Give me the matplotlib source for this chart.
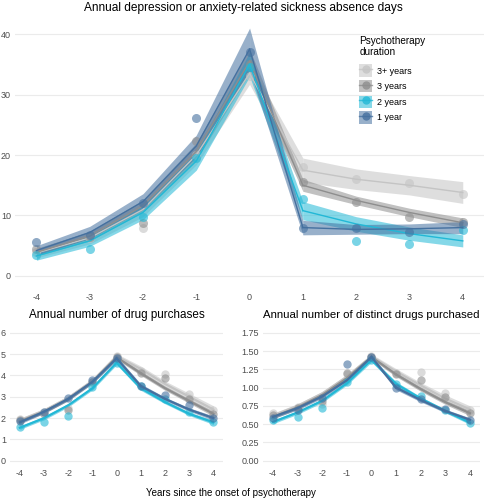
import numpy as np
import matplotlib.pyplot as plt
from matplotlib.patches import Patch
from matplotlib.lines import Line2D

plt.rcParams['font.family'] = ['Liberation Sans', 'DejaVu Sans']
plt.rcParams['axes.unicode_minus'] = False

years = [-4, -3, -2, -1, 0, 1, 2, 3, 4]
groups = ["3+ years", "3 years", "2 years", "1 year"]
colors = {"3+ years": "#c4c4c4", "3 years": "#8e8e8e",
          "2 years": "#22b8d6", "1 year": "#44709f"}

# ---- sickness absence days: fitted, half width of band, observed
sick_fit = {
    "3+ years": [3.8, 6.3, 11.0, 20.0, 33.5, 17.5, 16.0, 15.0, 13.8],
    "3 years":  [3.9, 6.6, 11.6, 20.6, 35.5, 15.0, 12.5, 10.5, 8.8],
    "2 years":  [3.3, 5.8, 10.5, 19.0, 35.0, 10.8, 8.6, 7.0, 5.8],
    "1 year":   [4.2, 7.2, 12.3, 21.5, 37.5, 8.0, 7.7, 7.8, 8.0],
}
sick_err = {
    "3+ years": [0.8, 1.0, 1.2, 1.6, 1.8, 2.0, 1.7, 1.6, 1.8],
    "3 years":  [0.6, 0.8, 1.0, 1.4, 2.0, 1.0, 0.7, 0.7, 0.8],
    "2 years":  [0.7, 0.9, 1.2, 1.5, 2.0, 1.5, 1.2, 1.1, 1.0],
    "1 year":   [0.8, 1.0, 1.3, 1.8, 3.5, 1.2, 0.8, 0.8, 1.0],
}
sick_obs = {
    "3+ years": [4.0, 6.2, 7.9, 20.0, 33.0, 18.0, 16.0, 15.3, 13.5],
    "3 years":  [4.4, 6.5, 8.8, 22.4, 35.0, 15.6, 12.3, 9.7, 8.9],
    "2 years":  [3.5, 4.5, 9.8, 19.5, 34.5, 12.7, 5.8, 5.3, 7.6],
    "1 year":   [5.6, 6.8, 12.0, 26.2, 37.0, 8.0, 7.9, 7.2, 8.6],
}

# ---- annual number of drug purchases
drug_fit = {
    "3+ years": [1.90, 2.35, 2.95, 3.75, 4.90, 4.30, 3.60, 3.00, 2.40],
    "3 years":  [1.85, 2.30, 2.90, 3.70, 4.85, 4.10, 3.40, 2.80, 2.20],
    "2 years":  [1.55, 2.00, 2.60, 3.40, 4.60, 3.40, 2.75, 2.20, 1.80],
    "1 year":   [1.80, 2.30, 2.90, 3.70, 4.80, 3.50, 2.90, 2.40, 2.00],
}
drug_err = {
    "3+ years": [0.10, 0.10, 0.10, 0.10, 0.12, 0.14, 0.14, 0.16, 0.18],
    "3 years":  [0.08, 0.08, 0.08, 0.08, 0.10, 0.10, 0.10, 0.10, 0.12],
    "2 years":  [0.08, 0.08, 0.08, 0.08, 0.10, 0.10, 0.08, 0.08, 0.10],
    "1 year":   [0.08, 0.08, 0.08, 0.08, 0.10, 0.10, 0.08, 0.08, 0.10],
}
drug_obs = {
    "3+ years": [1.95, 2.30, 2.45, 3.70, 4.90, 4.20, 4.05, 3.15, 2.40],
    "3 years":  [1.90, 2.20, 2.40, 3.70, 4.85, 4.10, 3.90, 2.90, 2.20],
    "2 years":  [1.60, 1.80, 2.10, 3.45, 4.60, 3.50, 2.90, 2.30, 1.80],
    "1 year":   [1.85, 2.30, 2.95, 3.80, 4.80, 3.50, 3.10, 2.60, 2.00],
}

# ---- annual number of distinct drugs purchased
dist_fit = {
    "3+ years": [0.62, 0.75, 0.92, 1.15, 1.43, 1.22, 1.03, 0.85, 0.70],
    "3 years":  [0.60, 0.73, 0.90, 1.13, 1.42, 1.18, 0.98, 0.80, 0.65],
    "2 years":  [0.53, 0.66, 0.82, 1.06, 1.38, 1.05, 0.85, 0.68, 0.52],
    "1 year":   [0.60, 0.72, 0.88, 1.10, 1.42, 1.00, 0.83, 0.68, 0.56],
}
dist_err = {
    "3+ years": [0.03, 0.03, 0.03, 0.03, 0.03, 0.04, 0.04, 0.05, 0.05],
    "3 years":  [0.025, 0.025, 0.025, 0.025, 0.03, 0.03, 0.03, 0.03, 0.035],
    "2 years":  [0.025, 0.025, 0.025, 0.025, 0.03, 0.03, 0.025, 0.025, 0.025],
    "1 year":   [0.025, 0.025, 0.025, 0.025, 0.03, 0.03, 0.025, 0.025, 0.025],
}
dist_obs = {
    "3+ years": [0.65, 0.74, 0.78, 1.18, 1.43, 1.20, 1.21, 0.93, 0.70],
    "3 years":  [0.62, 0.72, 0.81, 1.20, 1.42, 1.18, 1.10, 0.87, 0.65],
    "2 years":  [0.55, 0.60, 0.72, 1.08, 1.38, 1.05, 0.88, 0.70, 0.52],
    "1 year":   [0.58, 0.70, 0.86, 1.32, 1.42, 1.00, 0.85, 0.71, 0.56],
}


def draw_panel(ax, fit, err, obs, lw, ms, xpad):
    x = np.array(years)
    for g in groups:
        c = colors[g]
        f = np.array(fit[g])
        e = np.array(err[g])
        # before onset, drop from peak to year 1, after onset
        for sl in (slice(0, 5), slice(4, 6), slice(5, 9)):
            ax.fill_between(x[sl], (f - e)[sl], (f + e)[sl], color=c, alpha=0.55, lw=0)
            ax.plot(x[sl], f[sl], color=c, lw=lw)
        ax.plot(x, obs[g], 'o', color=c, alpha=0.6, ms=ms, mew=0)
    ax.set_xlim(-4.4, 4.4)
    ax.set_xticks(years)
    ax.grid(axis='y', color='#ebebeb', lw=0.8)
    ax.set_axisbelow(True)
    for s in ax.spines.values():
        s.set_visible(False)
    ax.tick_params(length=0, labelsize=6.5, labelcolor='#4d4d4d', pad=3)
    ax.tick_params(axis='x', pad=xpad)


fig = plt.figure(figsize=(4.87, 5.0), dpi=100)

ax1 = fig.add_axes([0.031, 0.436, 0.963, 0.526])
draw_panel(ax1, sick_fit, sick_err, sick_obs, 1.0, 6.5, 8)
ax1.set_ylim(-1, 42.5)
ax1.set_yticks([0, 10, 20, 30, 40])
fig.text(0.5, 0.984, "Annual depression or anxiety-related sickness absence days",
         ha='center', va='center', fontsize=8.6)

ax2 = fig.add_axes([0.021, 0.07, 0.437, 0.273])
draw_panel(ax2, drug_fit, drug_err, drug_obs, 1.6, 6, 3)
ax2.set_ylim(-0.2, 6.2)
ax2.set_yticks([0, 1, 2, 3, 4, 5, 6])
fig.text(0.24, 0.37, "Annual number of drug purchases", ha='center', va='center', fontsize=8.4)

ax3 = fig.add_axes([0.5404, 0.07, 0.4448, 0.273])
draw_panel(ax3, dist_fit, dist_err, dist_obs, 1.6, 6, 3)
ax3.set_ylim(-0.06, 1.81)
ax3.set_yticks([0, 0.25, 0.5, 0.75, 1.0, 1.25, 1.5, 1.75])
ax3.set_yticklabels(["0.00", "0.25", "0.50", "0.75", "1.00", "1.25", "1.50", "1.75"])
fig.text(0.762, 0.37, "Annual number of distinct drugs purchased", ha='center', va='center',
         fontsize=8.2)

fig.text(0.475, 0.014, "Years since the onset of psychotherapy", ha='center', va='center',
         fontsize=7)

handles = []
for g in groups:
    c = colors[g]
    handles.append((Patch(facecolor=c, alpha=0.55, lw=0),
                    Line2D([], [], color=c, lw=1.0, marker='o', ms=6, alpha=0.8, mew=0)))
leg = fig.legend(handles, groups, loc='upper left', bbox_to_anchor=(0.725, 0.941),
                 frameon=False, fontsize=6.5, title="Psychotherapy\nduration",
                 title_fontsize=7.2, handlelength=1.4, handleheight=1.75,
                 labelspacing=0.35, handletextpad=0.6, borderpad=0.2)
leg._legend_box.align = "left"
leg._legend_box.sep = 5

fig.savefig("out.png", dpi=100)
